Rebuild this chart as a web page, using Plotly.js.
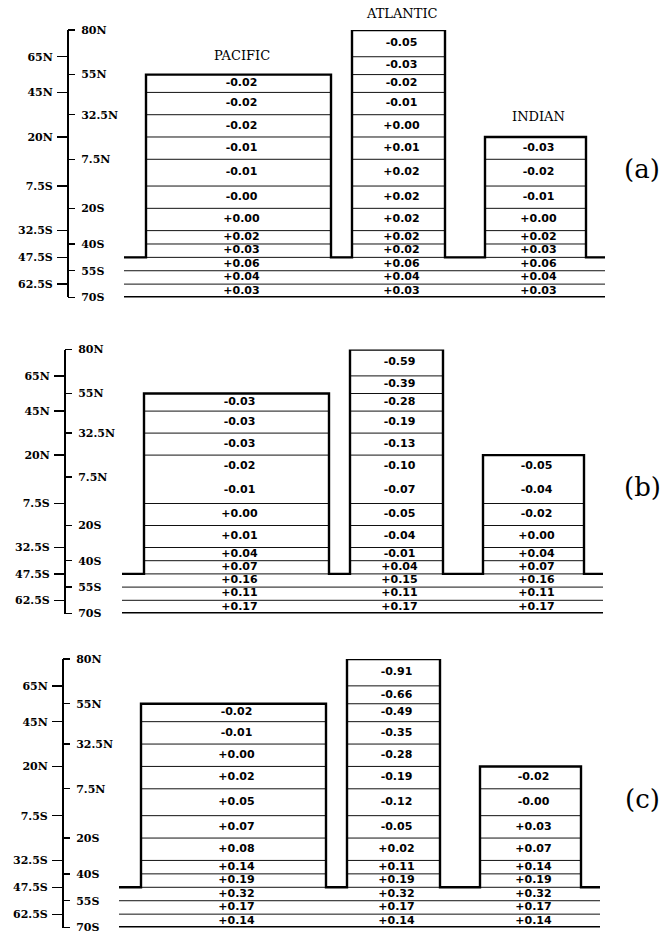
<!DOCTYPE html>
<html><head><meta charset="utf-8">
<script src="https://cdn.plot.ly/plotly-3.0.1.min.js"></script>
<style>html,body{margin:0;padding:0;background:#fff}#chart{width:670px;height:936px}</style>
</head><body><div id="chart"></div>
<script>
// ---------- DATA ----------
// latitude band boundaries, north to south (deg; N positive)
const boundaryLats = [80, 65, 55, 45, 32.5, 20, 7.5, -7.5, -20, -32.5, -40, -47.5, -55, -62.5, -70];
const boundaryTickLats = [80, 55, 32.5, 7.5, -20, -40, -55, -70];
const boundaryTickLabels = ['80N', '55N', '32.5N', '7.5N', '20S', '40S', '55S', '70S'];
const centerTickLats = [65, 45, 20, -7.5, -32.5, -47.5, -62.5];
const centerTickLabels = ['65N', '45N', '20N', '7.5S', '32.5S', '47.5S', '62.5S'];

const basins = ['PACIFIC', 'ATLANTIC', 'INDIAN'];
const basinTopLat = [55, 80, 20];
const basinBottomLat = -47.5;
const southernBottomLat = -70;
const panelLabels = ['(a)', '(b)', '(c)'];

// cell values, north to south (-0 means printed "-0.00")
const pacificA  = [-0.02, -0.02, -0.02, -0.01, -0.01, -0, 0.00, 0.02, 0.03];
const atlanticA = [-0.05, -0.03, -0.02, -0.01, 0.00, 0.01, 0.02, 0.02, 0.02, 0.02, 0.02];
const indianA   = [-0.03, -0.02, -0.01, 0.00, 0.02, 0.03];
const southernA = [[0.06, 0.04, 0.03], [0.06, 0.04, 0.03], [0.06, 0.04, 0.03]];

const pacificB  = [-0.03, -0.03, -0.03, -0.02, -0.01, 0.00, 0.01, 0.04, 0.07];
const atlanticB = [-0.59, -0.39, -0.28, -0.19, -0.13, -0.10, -0.07, -0.05, -0.04, -0.01, 0.04];
const indianB   = [-0.05, -0.04, -0.02, 0.00, 0.04, 0.07];
const southernB = [[0.16, 0.11, 0.17], [0.15, 0.11, 0.17], [0.16, 0.11, 0.17]];

const pacificC  = [-0.02, -0.01, 0.00, 0.02, 0.05, 0.07, 0.08, 0.14, 0.19];
const atlanticC = [-0.91, -0.66, -0.49, -0.35, -0.28, -0.19, -0.12, -0.05, 0.02, 0.11, 0.19];
const indianC   = [-0.02, -0, 0.03, 0.07, 0.14, 0.19];
const southernC = [[0.32, 0.17, 0.14], [0.32, 0.17, 0.14], [0.32, 0.17, 0.14]];

const panelData = [
  {basinVals: [pacificA, atlanticA, indianA], south: southernA},
  {basinVals: [pacificB, atlanticB, indianB], south: southernB},
  {basinVals: [pacificC, atlanticC, indianC], south: southernC}
];

// ---------- LAYOUT / GEOMETRY (not data) ----------
const geom = {
  basinX: [[146, 331], [352, 445], [485, 586]],
  southX: [124, 605],
  textDx: 3
};
const panels = [
  {dom: [0.68216, 0.96795], xshift: 0, axisPos: 0.100, hiddenLines: []},
  {dom: [0.34455, 0.62660], xshift: 2, axisPos: 0.0955, hiddenLines: [7.5]},
  {dom: [0.00900, 0.29594], xshift: 5, axisPos: 0.0925, hiddenLines: []}
];

function fmt(v) {
  const neg = v < 0 || Object.is(v, -0);
  return (neg ? '-' : '+') + Math.abs(v).toFixed(2);
}

const traces = [];
const layout = {
  width: 670, height: 936,
  margin: {l: 0, r: 0, t: 0, b: 0},
  paper_bgcolor: '#fff', plot_bgcolor: 'rgba(0,0,0,0)',
  showlegend: false,
  annotations: []
};

const tickFont = {family: 'DejaVu Serif', size: 11, color: '#000', weight: 'bold'};

panels.forEach((p, i) => {
  const xn = i === 0 ? 'x' : 'x' + (i + 1);
  const yl = 'y' + (i === 0 ? '' : (2 * i + 1));
  const ylKey = 'yaxis' + (i === 0 ? '' : (2 * i + 1));
  const yrKey = 'yaxis' + (2 * i + 2);
  const yr = 'y' + (2 * i + 2);
  const xKey = 'xaxis' + (i === 0 ? '' : (i + 1));

  layout[xKey] = {domain: [0, 1], range: [p.xshift, 670 + p.xshift], visible: false,
                  anchor: yl, fixedrange: true};
  layout[ylKey] = {domain: p.dom, range: [southernBottomLat, boundaryLats[0]], anchor: 'free',
    position: p.axisPos, side: 'left', tickmode: 'array', tickvals: centerTickLats,
    ticktext: centerTickLabels, ticks: 'outside', ticklen: 10, tickwidth: 1.3, tickcolor: '#000',
    showline: true, linewidth: 1.6, linecolor: '#000', showgrid: false, zeroline: false,
    tickfont: tickFont, ticklabelstandoff: 2, ticklabeloverflow: 'allow', fixedrange: true};
  layout[yrKey] = {overlaying: yl, range: [southernBottomLat, boundaryLats[0]], anchor: 'free',
    position: p.axisPos, side: 'right', tickmode: 'array', tickvals: boundaryTickLats,
    ticktext: boundaryTickLabels, ticks: 'outside', ticklen: 7, tickwidth: 1.3, tickcolor: '#000',
    showline: false, showgrid: false, zeroline: false, tickfont: tickFont,
    ticklabelstandoff: 4, ticklabeloverflow: 'allow', fixedrange: true};

  // placeholder trace so the right-hand (boundary) axis is drawn
  traces.push({type: 'scatter', mode: 'markers', x: [null], y: [null], xaxis: xn, yaxis: yr,
    hoverinfo: 'skip', marker: {opacity: 0}});

  const d = panelData[i];
  const thinX = [], thinY = [];
  const tx = [], ty = [], tt = [];
  basins.forEach((b, k) => {
    const [x0, x1] = geom.basinX[k];
    const lats = boundaryLats.filter(l => l <= basinTopLat[k] && l >= basinBottomLat);
    lats.slice(1, -1).forEach(l => {
      if (p.hiddenLines.includes(l)) return;
      thinX.push(x0, x1, null); thinY.push(l, l, null);
    });
    d.basinVals[k].forEach((v, j) => {
      tx.push((x0 + x1) / 2 + geom.textDx);
      ty.push((lats[j] + lats[j + 1]) / 2);
      tt.push(fmt(v));
    });
    const sl = boundaryLats.filter(l => l <= basinBottomLat);
    d.south[k].forEach((v, j) => {
      tx.push((x0 + x1) / 2 + geom.textDx);
      ty.push((sl[j] + sl[j + 1]) / 2);
      tt.push(fmt(v));
    });
  });
  boundaryLats.filter(l => l <= basinBottomLat && l > southernBottomLat).forEach(l => {
    thinX.push(geom.southX[0], geom.southX[1], null); thinY.push(l, l, null);
  });

  traces.push({type: 'scatter', mode: 'lines', x: thinX, y: thinY, xaxis: xn, yaxis: yl,
    line: {color: '#111', width: 1}, hoverinfo: 'skip', cliponaxis: false});

  const ox = [geom.southX[0]], oy = [basinBottomLat];
  basins.forEach((b, k) => {
    const [x0, x1] = geom.basinX[k];
    ox.push(x0, x0, x1, x1); oy.push(basinBottomLat, basinTopLat[k], basinTopLat[k], basinBottomLat);
  });
  ox.push(geom.southX[1]); oy.push(basinBottomLat);
  traces.push({type: 'scatter', mode: 'lines', x: ox, y: oy, xaxis: xn, yaxis: yl,
    line: {color: '#000', width: 2.4}, hoverinfo: 'skip', cliponaxis: false});
  traces.push({type: 'scatter', mode: 'lines', x: geom.southX, y: [southernBottomLat, southernBottomLat],
    xaxis: xn, yaxis: yl, line: {color: '#000', width: 3}, hoverinfo: 'skip', cliponaxis: false});
  traces.push({type: 'scatter', mode: 'text', x: tx, y: ty, text: tt, xaxis: xn, yaxis: yl,
    textposition: 'middle center', cliponaxis: false, hoverinfo: 'skip',
    textfont: {family: 'DejaVu Sans', size: 11, color: '#000', weight: 'bold'}});

  layout.annotations.push({xref: xn, yref: yl, x: 642 + p.xshift, y: 2, text: panelLabels[i],
    showarrow: false, xanchor: 'center', yanchor: 'middle',
    font: {family: 'DejaVu Serif', size: 26, color: '#000'}});

  if (i === 0) {
    // ocean names: paper-based vertical placement (ATLANTIC sits above the axis range)
    const namePaperY = [1 - 55 / 936, 1 - 14 / 936, 1 - 116 / 936];
    basins.forEach((b, k) => {
      const [x0, x1] = geom.basinX[k];
      layout.annotations.push({xref: xn, yref: 'paper', x: (x0 + x1) / 2 + 3, y: namePaperY[k], text: b,
        showarrow: false, xanchor: 'center', yanchor: 'middle',
        font: {family: 'DejaVu Serif', size: 13, color: '#000'}});
    });
  }
});

Plotly.newPlot('chart', traces, layout, {displayModeBar: false, staticPlot: true});
</script></body></html>
